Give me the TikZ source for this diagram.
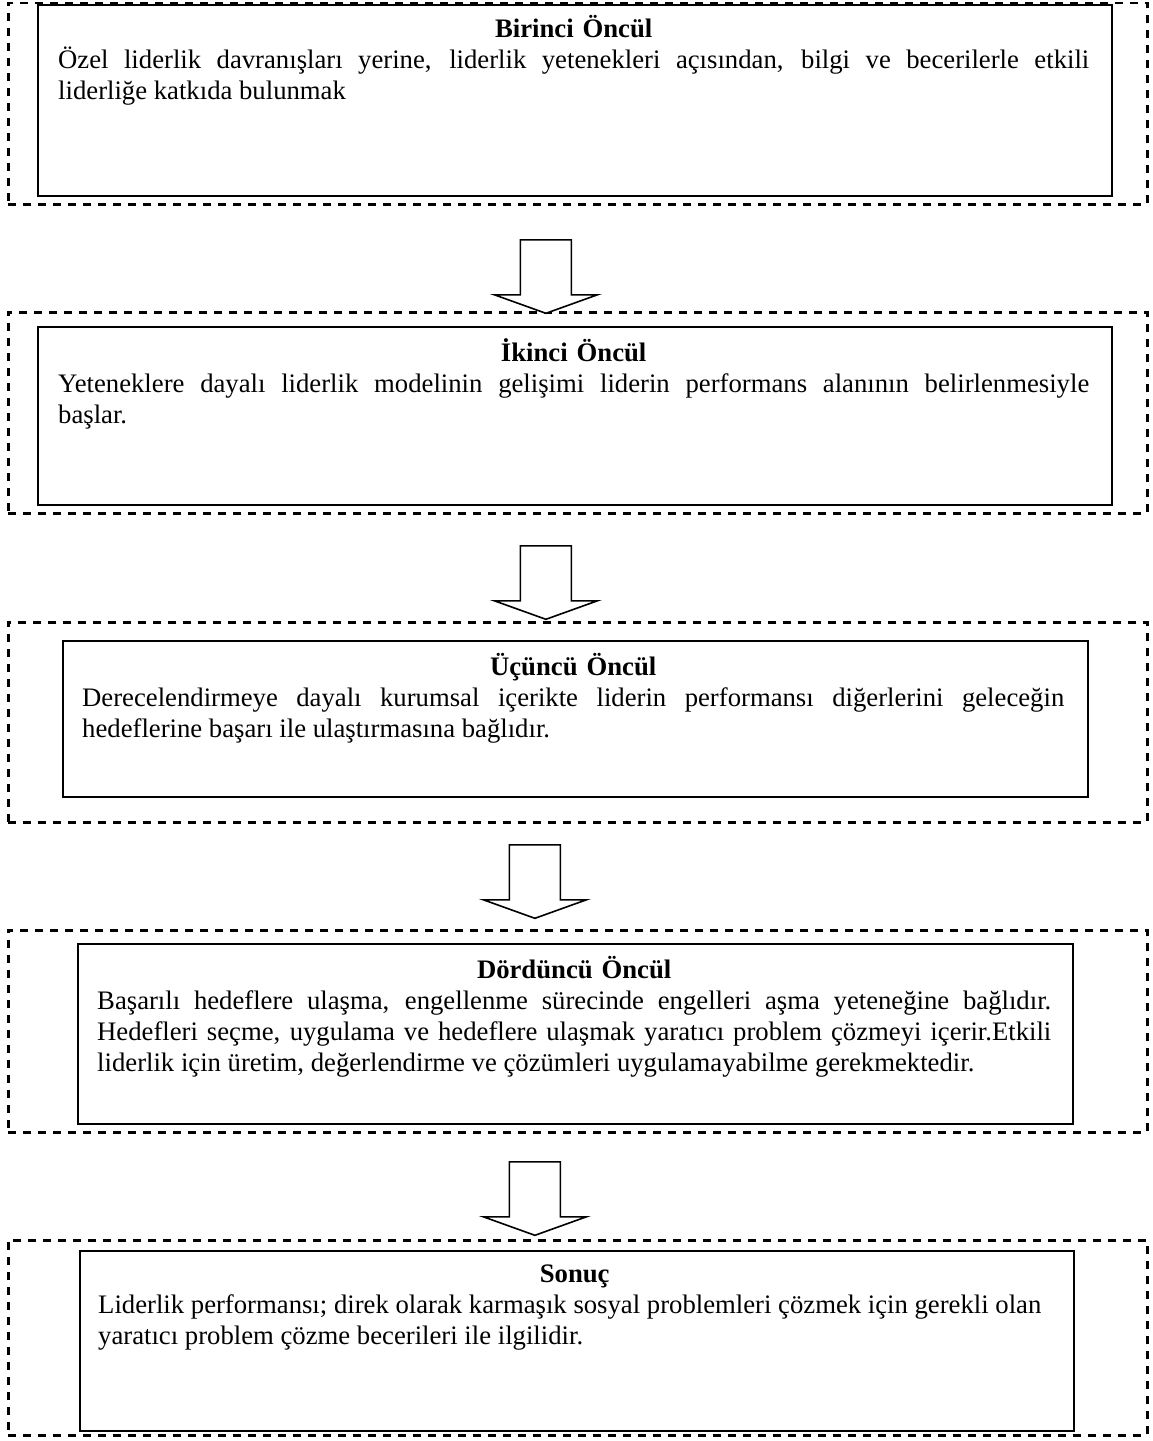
\documentclass[tikz,border=0pt]{standalone}
\usepackage{fontspec}
\setmainfont{Liberation Serif}
\usetikzlibrary{calc}
\setlength\parindent{0pt}
\hyphenpenalty=10000
\tolerance=9999
\hbadness=10000
\newcommand\jst{\spaceskip=0pt\relax\xspaceskip=0pt\relax}
\newcommand\jl[1]{\hbox to \linewidth{#1}}
\tikzset{
  dbox/.style={draw, dash pattern=on 8pt off 7pt, line width=2.8pt, anchor=north west, inner sep=0pt},
  ibox/.style={draw, line width=2pt, anchor=north west, inner sep=0pt},
  txt/.style={anchor=base west, inner sep=0pt, font=\fontsize{26.7}{31}\selectfont},
  barrow/.style={draw, line width=1.6pt, line join=miter, fill=white},
}
\newcommand\ttl[1]{{\centering\textbf{#1}\par}\jst}
\newcommand\blockarrow[1]{%
  \draw[barrow] (#1) ++(-25.5,0) -- ++(0,55) -- ++(-26,0) -- ++(51.5,18.5)
    -- ++(51.5,-18.5) -- ++(-26,0) -- ++(0,-55) -- cycle;}
\begin{document}
\begin{tikzpicture}[x=1pt,y=-1pt]
\useasboundingbox (0,0) rectangle (1153,1441);
% box 1
\node[dbox, minimum width=1139pt, minimum height=201.5pt] (d1) at (7,1.5) {};
\node[ibox, minimum width=1074pt, minimum height=191pt] (b1) at (36.5,4) {};
\node[txt, text width=1031pt] (t1) at (58,37) {\ttl{Birinci Öncül}\jl{Özel liderlik davranışları yerine, liderlik yetenekleri açısından, bilgi ve becerilerle etkili}\leavevmode liderliğe katkıda bulunmak};
% box 2
\node[dbox, minimum width=1139pt, minimum height=201pt] (d2) at (7,311) {};
\node[ibox, minimum width=1074pt, minimum height=178pt] (b2) at (36.5,326) {};
\node[txt, text width=1031pt] (t2) at (58,361) {\ttl{İkinci Öncül}\jl{Yeteneklere dayalı liderlik modelinin gelişimi liderin performans alanının belirlenmesiyle}\leavevmode başlar.};
% box 3
\node[dbox, minimum width=1139pt, minimum height=200pt] (d3) at (7,621) {};
\node[ibox, minimum width=1025pt, minimum height=156pt] (b3) at (62,640) {};
\node[txt, text width=982pt] (t3) at (82,675) {\ttl{Üçüncü Öncül}\jl{Derecelendirmeye dayalı kurumsal içerikte liderin performansı diğerlerini geleceğin}\leavevmode hedeflerine başarı ile ulaştırmasına bağlıdır.};
% box 4
\node[dbox, minimum width=1139pt, minimum height=202pt] (d4) at (7,929) {};
\node[ibox, minimum width=995pt, minimum height=180pt] (b4) at (77,943) {};
\node[txt, text width=954pt] (t4) at (97,978) {\ttl{Dördüncü Öncül}\jl{Başarılı hedeflere ulaşma, engellenme sürecinde engelleri aşma yeteneğine bağlıdır.}\jl{Hedefleri seçme, uygulama ve hedeflere ulaşmak yaratıcı problem çözmeyi içerir.Etkili}\leavevmode liderlik için üretim, değerlendirme ve çözümleri uygulamayabilme gerekmektedir.};
% box 5
\node[dbox, minimum width=1139pt, minimum height=195pt] (d5) at (7,1239) {};
\node[ibox, minimum width=994pt, minimum height=180pt] (b5) at (79,1250) {};
\node[txt, text width=953pt] (t5) at (98,1282) {\ttl{Sonuç}Liderlik performansı; direk olarak karmaşık sosyal problemleri çözmek için gerekli olan\newline yaratıcı problem çözme becerileri ile ilgilidir.};
% arrows
\coordinate (a1) at ($(d1.south)+(-32,34)$);
\coordinate (a2) at ($(d2.south)+(-32,31)$);
\coordinate (a3) at ($(d3.south)+(-43,21)$);
\coordinate (a4) at ($(d4.south)+(-43,28)$);
\blockarrow{a1}
\blockarrow{a2}
\blockarrow{a3}
\blockarrow{a4}
\end{tikzpicture}
\end{document}
